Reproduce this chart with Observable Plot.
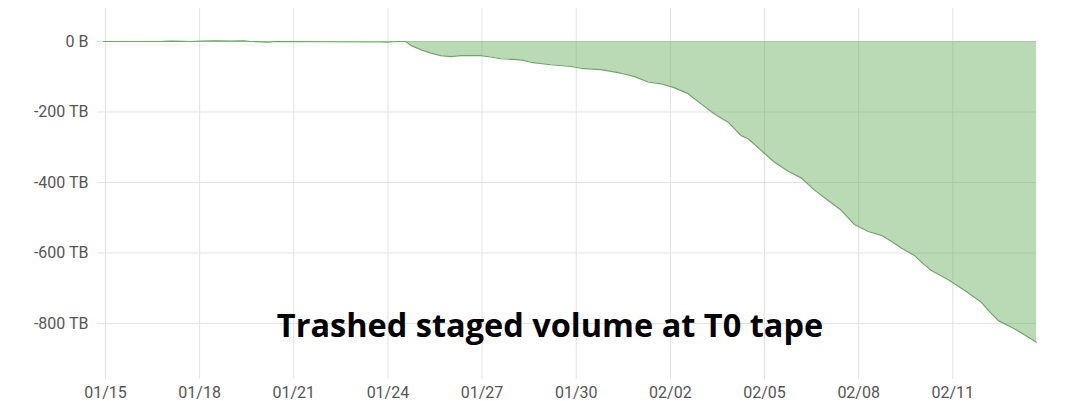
<!DOCTYPE html>
<html><head><meta charset="utf-8">
<script src="https://cdn.jsdelivr.net/npm/d3@7"></script>
<script src="https://cdn.jsdelivr.net/npm/@observablehq/plot@0.6"></script>
<style>body{margin:0;background:#fff}</style>
</head><body><div id="chart"></div>
<script>
const times = [
  "2024-01-14T22:30Z","2024-01-16T18:00Z","2024-01-17T01:45Z","2024-01-17T09:20Z","2024-01-17T17:00Z",
  "2024-01-18T03:00Z","2024-01-18T12:10Z","2024-01-18T23:40Z","2024-01-19T09:40Z","2024-01-19T15:00Z",
  "2024-01-20T04:45Z","2024-01-20T10:10Z","2024-01-23T18:30Z","2024-01-23T23:50Z","2024-01-24T06:00Z",
  "2024-01-24T13:40Z","2024-01-24T17:30Z","2024-01-25T01:10Z","2024-01-25T08:50Z","2024-01-25T16:30Z",
  "2024-01-26T00:05Z","2024-01-26T07:45Z","2024-01-26T23:05Z","2024-01-27T06:45Z","2024-01-27T14:25Z",
  "2024-01-28T05:45Z","2024-01-28T13:20Z","2024-01-29T04:40Z","2024-01-29T20:00Z","2024-01-30T03:40Z",
  "2024-01-30T18:55Z","2024-01-31T10:15Z","2024-01-31T20:10Z","2024-02-01T06:55Z","2024-02-01T16:50Z",
  "2024-02-02T02:50Z","2024-02-02T13:35Z","2024-02-02T23:30Z","2024-02-03T09:25Z","2024-02-03T20:10Z",
  "2024-02-04T06:05Z","2024-02-04T11:30Z","2024-02-04T21:25Z","2024-02-05T07:25Z","2024-02-05T18:05Z",
  "2024-02-06T04:05Z","2024-02-06T14:00Z","2024-02-07T00:45Z","2024-02-07T10:40Z","2024-02-07T20:40Z",
  "2024-02-08T07:20Z","2024-02-08T17:20Z","2024-02-09T01:00Z","2024-02-09T08:35Z","2024-02-09T18:35Z",
  "2024-02-09T23:55Z","2024-02-10T07:35Z","2024-02-10T20:35Z","2024-02-11T08:50Z","2024-02-11T21:50Z",
  "2024-02-12T03:15Z","2024-02-12T10:50Z","2024-02-12T23:05Z","2024-02-13T09:50Z","2024-02-13T16:00Z"
];
const volumesTB = [
  0, 0, 1, 0.5, 0,
  1, 1.5, 1, 1.5, 0,
  -2, 0, -1.5, -2, 0,
  0, -11, -23, -33, -40,
  -43, -40, -40, -44, -49,
  -52, -59, -66, -71, -76,
  -80, -90, -99, -115, -120,
  -131, -148, -177, -205, -229,
  -267, -276, -309, -342, -368,
  -387, -421, -451, -479, -519,
  -539, -550, -567, -586, -607,
  -626, -650, -676, -706, -740,
  -763, -792, -815, -839, -853
];
const tickDates = ["2024-01-15","2024-01-18","2024-01-21","2024-01-24","2024-01-27","2024-01-30","2024-02-02","2024-02-05","2024-02-08","2024-02-11"];
const yTicks = [0, -200, -400, -600, -800];
const title = "Trashed staged volume at T0 tape";

const data = times.map((t, i) => ({date: new Date(t), value: volumesTB[i]}));
const xTicks = tickDates.map(d => new Date(d + "T00:00Z"));
const fmtY = v => v === 0 ? "0 B" : `${v} TB`;

const plot = Plot.plot({
  width: 1086, height: 401,
  marginLeft: 103, marginRight: 50, marginTop: 8, marginBottom: 22,
  style: {fontFamily: "Roboto, sans-serif", fontSize: "16px", color: "#555", background: "#fff"},
  x: {type: "utc", domain: [data[0].date, data[data.length - 1].date]},
  y: {domain: [-959, 93.6]},
  marks: [
    Plot.gridX(xTicks, {stroke: "#e2e2e2", strokeOpacity: 1}),
    Plot.gridY(yTicks, {stroke: "#e2e2e2", strokeOpacity: 1}),
    Plot.axisX(xTicks, {tickSize: 0, tickPadding: 7, tickFormat: d3.utcFormat("%m/%d"), fill: "#555", label: null}),
    Plot.axisY(yTicks, {tickSize: 6, tickPadding: 9, tickFormat: fmtY, stroke: "#e2e2e2", fill: "#555", label: null}),
    Plot.areaY(data, {x: "date", y: "value", fill: "#5aa84f", fillOpacity: 0.42}),
    Plot.lineY(data, {x: "date", y: "value", stroke: "#6aa864", strokeWidth: 1.2}),
    Plot.text([title], {frameAnchor: "bottom", dx: -20, dy: -43, lineAnchor: "bottom",
      fontFamily: "Open Sans", fontWeight: 700, fontSize: 32.5, fill: "#000"})
  ]
});
document.getElementById("chart").append(plot);
</script>
</body></html>
